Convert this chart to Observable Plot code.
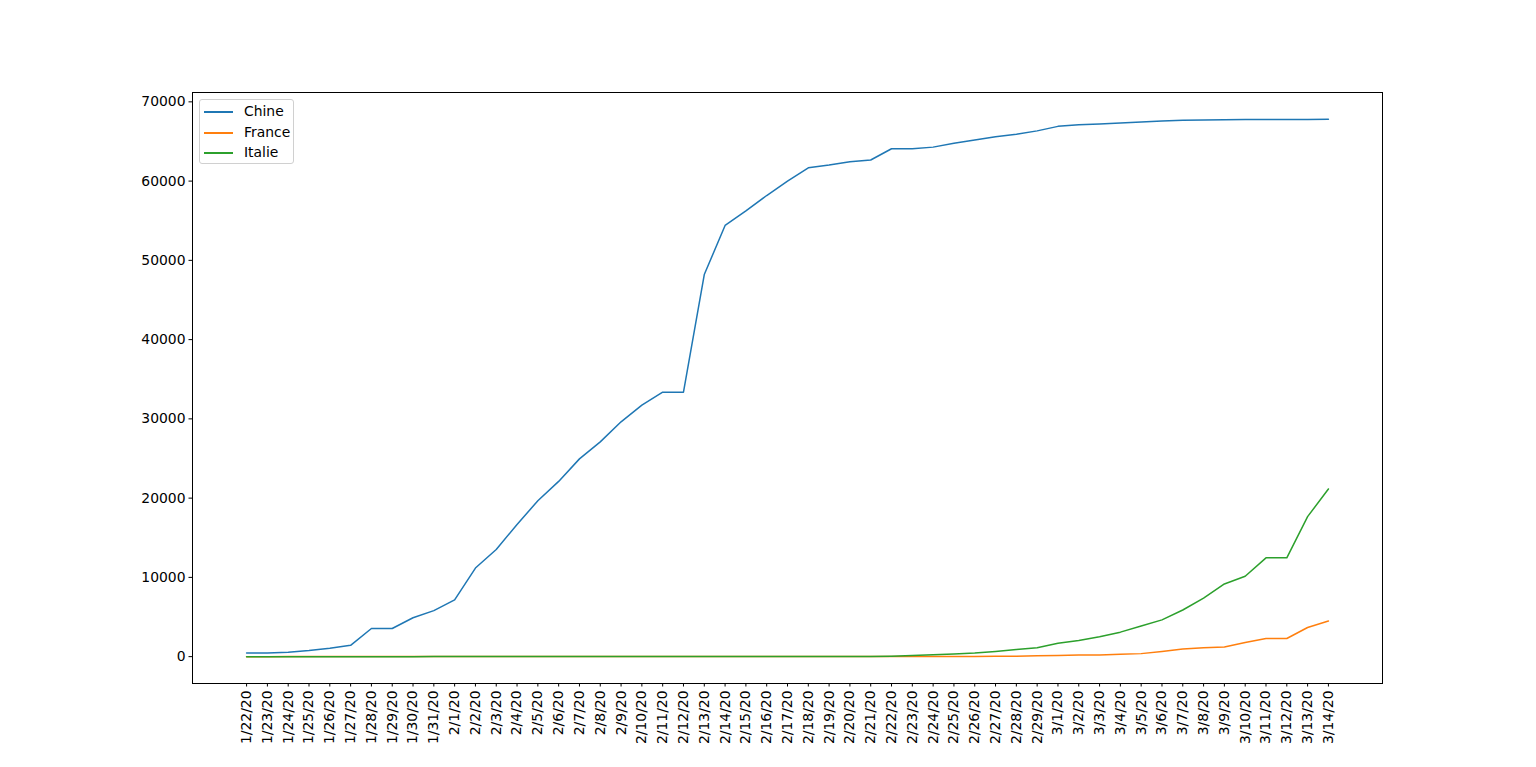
<!DOCTYPE html>
<html>
<head>
<meta charset="utf-8">
<script src="https://cdn.jsdelivr.net/npm/d3@7"></script>
<script src="https://cdn.jsdelivr.net/npm/@observablehq/plot@0.6"></script>
<style>
  html, body { margin: 0; padding: 0; background: #fff; }
  #wrap { position: relative; width: 1536px; height: 767px; font-family: "DejaVu Sans", sans-serif; }
  #legend { position: absolute; left: 199px; top: 99px; width: 95px; height: 65px; border: 1px solid #d0d0d0; border-radius: 3px; background: rgba(255,255,255,0.8); box-sizing: border-box; font-size: 13.9px; }
  .row { position: absolute; left: 0; height: 20px; }
  .row .sw { position: absolute; left: 4px; top: 9px; width: 29px; height: 0; border-top: 2px solid; }
  .row .lb { position: absolute; left: 44px; top: 1px; white-space: nowrap; color: #000; }
</style>
</head>
<body>
<div id="wrap"><div id="chart"></div><div id="legend"></div></div>
<script>
const dates = ["1/22/20","1/23/20","1/24/20","1/25/20","1/26/20","1/27/20","1/28/20","1/29/20","1/30/20","1/31/20",
"2/1/20","2/2/20","2/3/20","2/4/20","2/5/20","2/6/20","2/7/20","2/8/20","2/9/20","2/10/20",
"2/11/20","2/12/20","2/13/20","2/14/20","2/15/20","2/16/20","2/17/20","2/18/20","2/19/20","2/20/20",
"2/21/20","2/22/20","2/23/20","2/24/20","2/25/20","2/26/20","2/27/20","2/28/20","2/29/20",
"3/1/20","3/2/20","3/3/20","3/4/20","3/5/20","3/6/20","3/7/20","3/8/20","3/9/20","3/10/20",
"3/11/20","3/12/20","3/13/20","3/14/20"];
const chine = [444,444,549,761,1058,1423,3554,3554,4903,5806,
7153,11177,13522,16678,19665,22112,24953,27100,29631,31728,
33366,33366,48206,54406,56249,58182,59989,61682,62031,62442,
62662,64084,64084,64287,64786,65187,65596,65914,66337,
66907,67103,67217,67332,67466,67592,67666,67707,67743,67760,
67773,67781,67786,67790];
const france = [0,0,2,3,3,3,4,5,5,5,
6,6,6,6,6,6,6,11,11,11,
11,11,11,11,12,12,12,12,12,12,
12,12,12,12,14,18,38,57,100,
130,191,204,288,380,656,959,1136,1219,1794,
2293,2293,3681,4496];
const italie = [0,0,0,0,0,0,0,0,0,2,
2,2,2,2,2,2,3,3,3,3,
3,3,3,3,3,3,3,3,3,3,
20,62,155,229,322,453,655,888,1128,
1694,2036,2502,3089,3858,4636,5883,7375,9172,10149,
12462,12462,17660,21157];
const seriesNames = ["Chine","France","Italie"];
const seriesColors = ["#1f77b4","#ff7f0e","#2ca02c"];
const yTicks = [0,10000,20000,30000,40000,50000,60000,70000];

const allSeries = [chine, france, italie];
const rows = [];
allSeries.forEach((vals, si) => vals.forEach((v, i) => rows.push({date: dates[i], value: v, series: seriesNames[si]})));

const maxV = d3.max(rows, d => d.value), minV = d3.min(rows, d => d.value);
const pad = (maxV - minV) * 0.05;

const chart = Plot.plot({
  width: 1536,
  height: 767,
  marginLeft: 192,
  marginRight: 154,
  marginTop: 92,
  marginBottom: 84,
  style: {fontFamily: "DejaVu Sans, sans-serif", fontSize: "13.9px", color: "#000", background: "#fff"},
  x: {type: "point", domain: dates, padding: 2.6, label: null},
  y: {domain: [minV - pad, maxV + pad], label: null},
  color: {domain: seriesNames, range: seriesColors},
  marks: [
    Plot.axisY({ticks: yTicks, tickFormat: d3.format("d"), tickSize: 3.5, tickPadding: 3.5, label: null, stroke: "#000", strokeOpacity: 1, fontSize: "13.9px"}),
    Plot.axisX({tickRotate: -90, tickSize: 3.5, tickPadding: 3.5, label: null, stroke: "#000", strokeOpacity: 1, fontSize: "13.9px"}),
    ...seriesNames.map(name => Plot.line(rows.filter(r => r.series === name), {x: "date", y: "value", stroke: "series", strokeWidth: 1.5})),
    Plot.frame({stroke: "#000", strokeWidth: 1})
  ]
});
document.getElementById("chart").appendChild(chart);

const legend = document.getElementById("legend");
seriesNames.forEach((name, i) => {
  const r = document.createElement("div");
  r.className = "row";
  r.style.top = (2 + i * 20.7) + "px";
  r.style.width = "100%";
  r.innerHTML = `<div class="sw" style="border-color:${seriesColors[i]}"></div><div class="lb">${name}</div>`;
  legend.appendChild(r);
});
</script>
</body>
</html>
